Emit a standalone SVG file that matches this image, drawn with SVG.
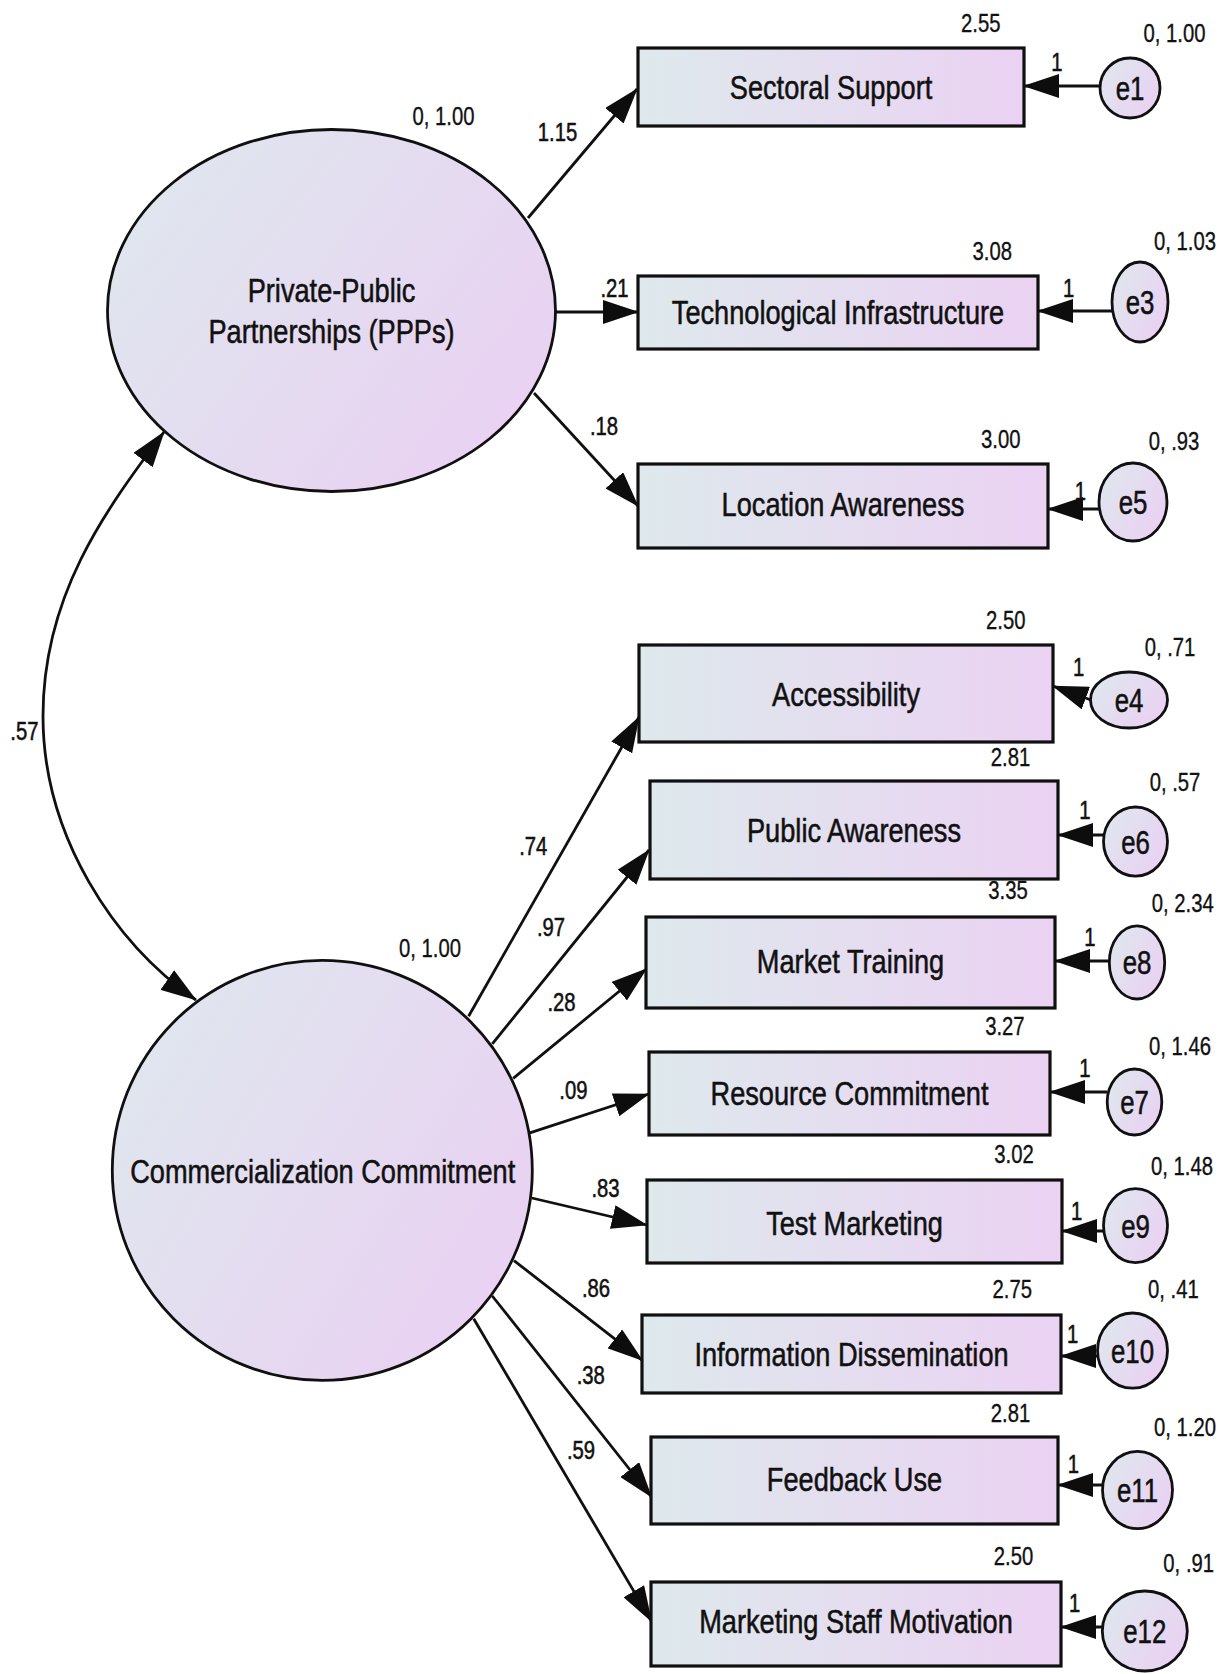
<svg xmlns="http://www.w3.org/2000/svg" width="1232" height="1674" viewBox="0 0 1232 1674">
  <defs>
    <linearGradient id="boxFill" x1="0" y1="0" x2="1" y2="0">
      <stop offset="0" stop-color="#dee9ec"/>
      <stop offset="1" stop-color="#ebd2f3"/>
    </linearGradient>
    <linearGradient id="ovalFill" x1="0" y1="0.2" x2="1" y2="0.8">
      <stop offset="0" stop-color="#dfe7ee"/>
      <stop offset="1" stop-color="#ead0f3"/>
    </linearGradient>
    <marker id="head" markerUnits="userSpaceOnUse" markerWidth="36" markerHeight="24" viewBox="0 0 36 24" refX="35" refY="12" orient="auto-start-reverse">
      <path d="M0,0 L36,12 L0,24 Z" fill="#0d0d0d"/>
    </marker>
    <style>
      .box { fill: url(#boxFill); stroke: #101010; stroke-width: 3.2; }
      .latent { fill: url(#ovalFill); stroke: #101010; stroke-width: 2.8; }
      .err { fill: url(#ovalFill); stroke: #101010; stroke-width: 2.8; }
      .path { fill: none; stroke: #101010; stroke-width: 2.8; marker-end: url(#head); }
      text { font-family: 'Liberation Sans', Arial, sans-serif; fill: #111111; stroke: #111111; stroke-width: 0.55; text-anchor: middle; }
      .name { font-size: 34px; }
      .num { font-size: 26px; stroke-width: 0.35; }
      .etxt { font-size: 34px; }
    </style>
  </defs>

  <rect width="1232" height="1674" fill="#ffffff"/>

  <!-- regression paths, covariance and error links -->
  <g id="connectors">
    <path class="path" d="M528,218 L637,89"/>
    <path class="path" d="M556,312 L638,312"/>
    <path class="path" d="M534,393 L638,506"/>
    <path class="path" style="marker-start:url(#head)" d="M164,432 C104,512 43,596 43,716 C43,836 114,943 196,1000"/>

    <path class="path" d="M468.6,1016.2 L639,717"/>
    <path class="path" d="M492.3,1043.9 L649,850"/>
    <path class="path" d="M513.2,1078.3 L646.4,969"/>
    <path class="path" d="M529.8,1132.8 L648.8,1094"/>
    <path class="path" d="M531.8,1198 L646.8,1225"/>
    <path class="path" d="M514,1260.6 L642.4,1360.4"/>
    <path class="path" d="M492.3,1296 L651.5,1497"/>
    <path class="path" d="M473.7,1318.7 L651.5,1621.4"/>

    <path class="path" d="M1100,86 L1024,86"/>
    <path class="path" d="M1113,311 L1038,311"/>
    <path class="path" d="M1100,509 L1048,509"/>
    <path class="path" d="M1091,700 L1053,686"/>
    <path class="path" d="M1104,835 L1058,835"/>
    <path class="path" d="M1110,961 L1055,961"/>
    <path class="path" d="M1107,1092 L1050,1092"/>
    <path class="path" d="M1104,1231 L1062,1231"/>
    <path class="path" d="M1098,1356 L1061,1356"/>
    <path class="path" d="M1102,1485 L1058,1485"/>
    <path class="path" d="M1103,1627 L1061,1627"/>

    <!-- path coefficients -->
    <g class="num">
      <text transform="translate(557.5 141) scale(.78 1)">1.15</text>
      <text transform="translate(614.5 297) scale(.78 1)">.21</text>
      <text transform="translate(604 435) scale(.78 1)">.18</text>
      <text transform="translate(24.4 740) scale(.78 1)">.57</text>
      <text transform="translate(533.3 855) scale(.78 1)">.74</text>
      <text transform="translate(551 936) scale(.78 1)">.97</text>
      <text transform="translate(561.5 1011) scale(.78 1)">.28</text>
      <text transform="translate(573.4 1099) scale(.78 1)">.09</text>
      <text transform="translate(605.5 1197) scale(.78 1)">.83</text>
      <text transform="translate(596 1297) scale(.78 1)">.86</text>
      <text transform="translate(590.8 1384) scale(.78 1)">.38</text>
      <text transform="translate(581 1459) scale(.78 1)">.59</text>
      <text transform="translate(1057 71) scale(.78 1)">1</text>
      <text transform="translate(1068.7 296.6) scale(.78 1)">1</text>
      <text transform="translate(1080.5 500) scale(.78 1)">1</text>
      <text transform="translate(1078.6 675.5) scale(.78 1)">1</text>
      <text transform="translate(1085 819) scale(.78 1)">1</text>
      <text transform="translate(1090 945.5) scale(.78 1)">1</text>
      <text transform="translate(1085 1077) scale(.78 1)">1</text>
      <text transform="translate(1076.6 1220) scale(.78 1)">1</text>
      <text transform="translate(1072.6 1342.6) scale(.78 1)">1</text>
      <text transform="translate(1073.5 1473) scale(.78 1)">1</text>
      <text transform="translate(1074.6 1611.5) scale(.78 1)">1</text>
    </g>
  </g>

  <!-- latent factors -->
  <g id="ppp">
    <ellipse class="latent" cx="331.5" cy="310.5" rx="224" ry="181"/>
    <text class="name" transform="translate(331.5 302) scale(.8 1)">Private-Public</text>
    <text class="name" transform="translate(331.5 342.7) scale(.8 1)">Partnerships (PPPs)</text>
    <text class="num" transform="translate(443.5 125) scale(.78 1)">0, 1.00</text>
  </g>
  <g id="cc">
    <circle class="latent" cx="322.3" cy="1170.4" r="210"/>
    <text class="name" transform="translate(322.7 1183.4) scale(.8 1)">Commercialization Commitment</text>
    <text class="num" transform="translate(430 957) scale(.78 1)">0, 1.00</text>
  </g>

  <!-- observed indicators -->
  <g id="sectoral-support">
    <rect class="box" x="638" y="48" width="386" height="78"/>
    <text class="name" transform="translate(831 99) scale(.8 1)">Sectoral Support</text>
    <text class="num" transform="translate(980.8 32.4) scale(.78 1)">2.55</text>
  </g>
  <g id="technological-infrastructure">
    <rect class="box" x="638" y="276" width="400" height="73"/>
    <text class="name" transform="translate(838 323.5) scale(.8 1)">Technological Infrastructure</text>
    <text class="num" transform="translate(992.3 260) scale(.78 1)">3.08</text>
  </g>
  <g id="location-awareness">
    <rect class="box" x="638" y="464" width="410" height="84"/>
    <text class="name" transform="translate(843 516) scale(.8 1)">Location Awareness</text>
    <text class="num" transform="translate(1000.8 447.6) scale(.78 1)">3.00</text>
  </g>
  <g id="accessibility">
    <rect class="box" x="639" y="645" width="414" height="97"/>
    <text class="name" transform="translate(846 706) scale(.8 1)">Accessibility</text>
    <text class="num" transform="translate(1005.7 629.2) scale(.78 1)">2.50</text>
  </g>
  <g id="public-awareness">
    <rect class="box" x="650" y="781" width="408" height="98"/>
    <text class="name" transform="translate(854 841.5) scale(.8 1)">Public Awareness</text>
    <text class="num" transform="translate(1010.5 765.6) scale(.78 1)">2.81</text>
  </g>
  <g id="market-training">
    <text class="num" transform="translate(1008 899) scale(.78 1)">3.35</text>
    <rect class="box" x="646" y="917" width="409" height="91"/>
    <text class="name" transform="translate(850.5 973.2) scale(.8 1)">Market Training</text>
  </g>
  <g id="resource-commitment">
    <rect class="box" x="649" y="1052" width="401" height="83"/>
    <text class="name" transform="translate(849.5 1105) scale(.8 1)">Resource Commitment</text>
    <text class="num" transform="translate(1004.9 1034.5) scale(.78 1)">3.27</text>
  </g>
  <g id="test-marketing">
    <rect class="box" x="647" y="1180" width="415" height="83"/>
    <text class="name" transform="translate(854.5 1235) scale(.8 1)">Test Marketing</text>
    <text class="num" transform="translate(1014 1162.7) scale(.78 1)">3.02</text>
  </g>
  <g id="information-dissemination">
    <rect class="box" x="642" y="1315" width="419" height="78"/>
    <text class="name" transform="translate(851.5 1366.4) scale(.8 1)">Information Dissemination</text>
    <text class="num" transform="translate(1012.3 1298.4) scale(.78 1)">2.75</text>
  </g>
  <g id="feedback-use">
    <rect class="box" x="651" y="1437" width="407" height="87"/>
    <text class="name" transform="translate(854.5 1491) scale(.8 1)">Feedback Use</text>
    <text class="num" transform="translate(1010.5 1421.7) scale(.78 1)">2.81</text>
  </g>
  <g id="marketing-staff-motivation">
    <rect class="box" x="651" y="1582" width="410" height="84"/>
    <text class="name" transform="translate(856 1633.3) scale(.8 1)">Marketing Staff Motivation</text>
    <text class="num" transform="translate(1013.5 1564.9) scale(.78 1)">2.50</text>
  </g>

  <!-- error terms -->
  <g id="e1">
    <ellipse class="err" cx="1130" cy="88" rx="30" ry="30"/>
    <text class="etxt" transform="translate(1130 100) scale(.76 1)">e1</text>
    <text class="num" transform="translate(1174.5 41.5) scale(.78 1)">0, 1.00</text>
  </g>
  <g id="e3">
    <ellipse class="err" cx="1140" cy="302" rx="28" ry="40"/>
    <text class="etxt" transform="translate(1140 314) scale(.76 1)">e3</text>
    <text class="num" transform="translate(1185 250) scale(.78 1)">0, 1.03</text>
  </g>
  <g id="e5">
    <ellipse class="err" cx="1133" cy="502" rx="34" ry="39"/>
    <text class="etxt" transform="translate(1133 514) scale(.76 1)">e5</text>
    <text class="num" transform="translate(1174 449.6) scale(.78 1)">0, .93</text>
  </g>
  <g id="e4">
    <ellipse class="err" cx="1129" cy="700" rx="38.5" ry="28"/>
    <text class="etxt" transform="translate(1129 712) scale(.76 1)">e4</text>
    <text class="num" transform="translate(1170 655.7) scale(.78 1)">0, .71</text>
  </g>
  <g id="e6">
    <ellipse class="err" cx="1135.5" cy="841.6" rx="32" ry="34.6"/>
    <text class="etxt" transform="translate(1135.5 853.6) scale(.76 1)">e6</text>
    <text class="num" transform="translate(1175 790.5) scale(.78 1)">0, .57</text>
  </g>
  <g id="e8">
    <ellipse class="err" cx="1137" cy="962.4" rx="27.7" ry="36.6"/>
    <text class="etxt" transform="translate(1137 974.4) scale(.76 1)">e8</text>
    <text class="num" transform="translate(1182.8 912) scale(.78 1)">0, 2.34</text>
  </g>
  <g id="e7">
    <ellipse class="err" cx="1134.5" cy="1102" rx="27.3" ry="33"/>
    <text class="etxt" transform="translate(1134.5 1114) scale(.76 1)">e7</text>
    <text class="num" transform="translate(1180 1055) scale(.78 1)">0, 1.46</text>
  </g>
  <g id="e9">
    <ellipse class="err" cx="1135.5" cy="1225.6" rx="32" ry="37"/>
    <text class="etxt" transform="translate(1135.5 1237.6) scale(.76 1)">e9</text>
    <text class="num" transform="translate(1182 1174.6) scale(.78 1)">0, 1.48</text>
  </g>
  <g id="e10">
    <ellipse class="err" cx="1132.5" cy="1350.6" rx="35" ry="37.6"/>
    <text class="etxt" transform="translate(1132.5 1362.6) scale(.76 1)">e10</text>
    <text class="num" transform="translate(1173.4 1298.4) scale(.78 1)">0, .41</text>
  </g>
  <g id="e11">
    <ellipse class="err" cx="1137.5" cy="1490" rx="35" ry="38.6"/>
    <text class="etxt" transform="translate(1137.5 1502) scale(.76 1)">e11</text>
    <text class="num" transform="translate(1185 1435.6) scale(.78 1)">0, 1.20</text>
  </g>
  <g id="e12">
    <ellipse class="err" cx="1144.8" cy="1631" rx="42.5" ry="40"/>
    <text class="etxt" transform="translate(1144.8 1643) scale(.76 1)">e12</text>
    <text class="num" transform="translate(1188.7 1572) scale(.78 1)">0, .91</text>
  </g>
</svg>
